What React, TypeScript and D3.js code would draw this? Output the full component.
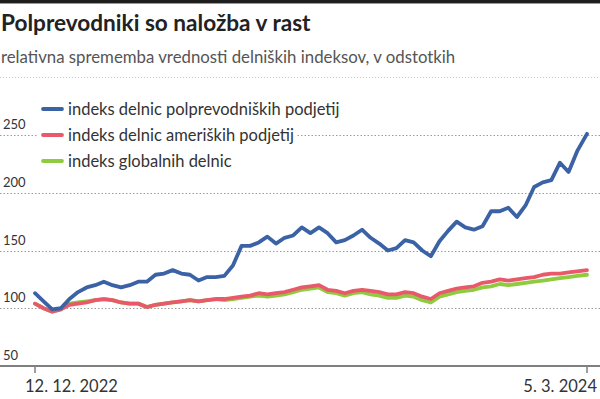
import React from 'react';
import * as d3 from 'd3';

const startDate = '2022-12-12';
const endDate = '2024-03-05';

// weekly closes, last value is 5. 3. 2024
const semisIndex = [
  113, 106, 99, 100, 108, 114, 118, 120, 123, 120,
  118, 120, 123, 123, 129, 130, 133, 130, 129, 124,
  127, 127, 128, 137, 154, 154, 157, 162, 156, 161,
  163, 170, 165, 170, 165, 157, 159, 163, 168, 161,
  156, 150, 152, 159, 157, 150, 145, 158, 167, 175,
  170, 168, 171, 184, 184, 187, 179, 189, 205, 209,
  211, 226, 218, 236, 251,
];
const usIndex = [
  104, 100, 97, 99, 103, 104, 105, 107, 108, 107,
  105, 104, 104, 101, 103, 104, 105, 106, 107, 106,
  107, 108, 108, 109, 110, 111, 113, 112, 113, 114,
  116, 118, 119, 120, 116, 115, 113, 115, 116, 115,
  114, 112, 112, 114, 113, 110, 108, 113, 115, 117,
  118, 119, 122, 123, 125, 124, 125, 126, 127, 129,
  130, 130, 131, 132, 133,
];
const globalIndex = [
  104, 100, 97, 99, 104, 105, 106, 107, 108, 107,
  105, 104, 104, 101, 103, 104, 105, 106, 107, 106,
  107, 108, 107, 108, 109, 110, 111, 110, 111, 112,
  114, 116, 117, 118, 114, 113, 111, 113, 114, 112,
  111, 109, 109, 111, 110, 107, 105, 110, 112, 114,
  115, 116, 118, 119, 121, 120, 121, 122, 123, 124,
  125, 126, 127, 128, 129,
];

const yTicks = [50, 100, 150, 200, 250];
const xTickLabels = ['12. 12. 2022', '5. 3. 2024'];
const legendLabels = [
  'indeks delnic polprevodniških podjetij',
  'indeks delnic ameriških podjetij',
  'indeks globalnih delnic',
];
const colors = ['#3b62a5', '#e85a6a', '#8fcb3e'];

const title = 'Polprevodniki so naložba v rast';
const subtitle = 'relativna sprememba vrednosti delniških indeksov, v odstotkih';

const W = 600;
const H = 399;
const font = 'Lato, "Open Sans", sans-serif';

const parse = d3.timeParse('%Y-%m-%d');
const start = parse(startDate) as Date;
const end = parse(endDate) as Date;
const dates = semisIndex.map((_, i) =>
  i < semisIndex.length - 1 ? d3.timeDay.offset(start, i * 7) : end
);

export default function App() {
  const x = d3.scaleTime().domain([start, end]).range([35, 587]);
  const y = d3.scaleLinear().domain([50, 250]).range([366, 135]);

  const line = d3.line<number>()
    .x((d, i) => x(dates[i]))
    .y(d => y(d));

  const series = [semisIndex, usIndex, globalIndex];
  // draw green, then red, then blue on top
  const drawOrder = [2, 1, 0];

  return (
    <svg width={W} height={H} style={{ position: 'absolute', left: 0, top: 0 }} fontFamily={font}>
      <rect x={0} y={0} width={W} height={3} fill="#1e1e1e" />
      <line x1={0} x2={W} y1={3.5} y2={3.5} stroke="#9a9a9a" strokeWidth={1} />

      <text x={1} y={31} fontSize={22.6} fontWeight={700} fill="#222">{title}</text>
      <text x={1} y={63} fontSize={16.8} fill="#555">{subtitle}</text>
      <line x1={0} x2={W} y1={77.5} y2={77.5} stroke="#c8c8c8" strokeDasharray="1,2" />

      {yTicks.slice(1).map(t => (
        <line key={t} x1={0} x2={W} y1={Math.round(y(t)) + 0.5} y2={Math.round(y(t)) + 0.5}
          stroke="#9c9c9c" strokeDasharray="1.5,2" />
      ))}
      {yTicks.map(t => (
        <text key={t} x={3} y={y(t) - 6} fontSize={13} fill="#333">{t}</text>
      ))}

      <line x1={0} x2={W} y1={y(50)} y2={y(50)} stroke="#7f7f7f" strokeWidth={2} />
      {[start, end].map((d, i) => (
        <line key={i} x1={x(d)} x2={x(d)} y1={y(50)} y2={y(50) + 7} stroke="#7f7f7f" strokeWidth={1.5} />
      ))}
      <text x={x(start) - 10} y={392} fontSize={16.5} fill="#333">{xTickLabels[0]}</text>
      <text x={x(end) + 10} y={392} fontSize={16.5} fill="#333" textAnchor="end">{xTickLabels[1]}</text>

      {drawOrder.map(i => (
        <path key={i} d={line(series[i]) || ''} fill="none" stroke={colors[i]}
          strokeWidth={3.8} strokeLinejoin="round" strokeLinecap="round" />
      ))}

      {legendLabels.map((lab, i) => {
        const ly = 109 + i * 26;
        return (
          <g key={lab}>
            <rect x={38} y={ly - 10} width={30} height={20} fill="#fff" />
            <line x1={43} x2={62} y1={ly} y2={ly} stroke={colors[i]} strokeWidth={3.8} strokeLinecap="round" />
            <text x={68} y={ly + 5.5} fontSize={16.5} fill="#333" stroke="#fff" strokeWidth={8}
              paintOrder="stroke" strokeLinejoin="round">{lab}</text>
          </g>
        );
      })}
    </svg>
  );
}
